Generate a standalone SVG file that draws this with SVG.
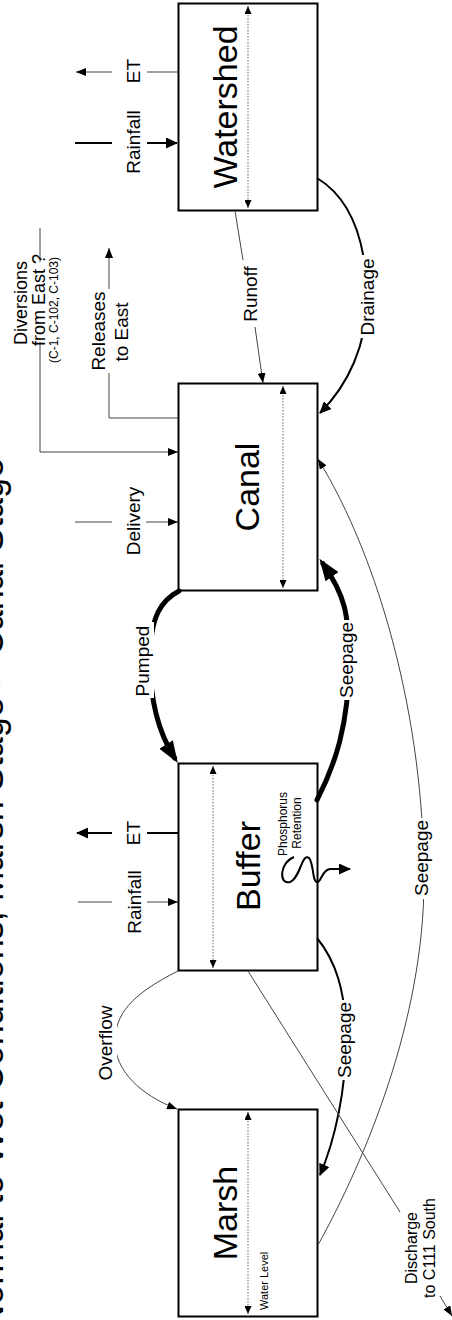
<svg xmlns="http://www.w3.org/2000/svg" width="452" height="1320" viewBox="0 0 452 1320">
<style>
.box{fill:#fff;stroke:#000;stroke-width:2}
.lv{fill:none;stroke:#666;stroke-width:1;stroke-dasharray:1.5 1.5}
.thin{fill:none;stroke:#444;stroke-width:1}
.med{fill:none;stroke:#000;stroke-width:2}
.thick{fill:none;stroke:#000;stroke-width:5;stroke-linecap:round}
text{font-family:"Liberation Sans",Arial,sans-serif;fill:#000}
.lb{font-size:19px}
.nm{font-size:34px}
.bg{fill:#fff}
</style>
<defs>
<marker id="ah" viewBox="0 0 10 8" refX="10" refY="4" markerWidth="10" markerHeight="8" markerUnits="userSpaceOnUse" orient="auto"><path d="M0 0L10 4L0 8z" fill="#000"/></marker>
<marker id="am" viewBox="0 0 12 11" refX="11" refY="5.5" markerWidth="12" markerHeight="11" markerUnits="userSpaceOnUse" orient="auto"><path d="M0 0L12 5.5L0 11z" fill="#000"/></marker>
<marker id="ab" viewBox="0 0 22 16" refX="16" refY="8" markerWidth="22" markerHeight="16" markerUnits="userSpaceOnUse" orient="auto"><path d="M0 0L22 8L0 16z" fill="#000"/></marker>
<marker id="lvm" viewBox="0 0 8 7" refX="8" refY="3.5" markerWidth="8" markerHeight="7" markerUnits="userSpaceOnUse" orient="auto-start-reverse"><path d="M0 0L8 3.5L0 7z" fill="#000"/></marker>
</defs>

<text transform="translate(3,458) rotate(-90)" text-anchor="end" font-size="36">Normal to Wet Conditions, Marsh Stage &gt; Canal Stage</text>

<g id="watershed">
<rect class="box" x="178.5" y="3.5" width="139" height="207"/>
<path class="lv" d="M248 6V208" marker-start="url(#lvm)" marker-end="url(#lvm)"/>
<text class="nm" transform="translate(237,107) rotate(-90)" text-anchor="middle">Watershed</text>
</g>
<g id="canal">
<rect class="box" x="178.5" y="383.5" width="139" height="207"/>
<path class="lv" d="M283 386V588" marker-start="url(#lvm)" marker-end="url(#lvm)"/>
<text class="nm" transform="translate(259,487) rotate(-90)" text-anchor="middle">Canal</text>
</g>
<g id="buffer">
<rect class="box" x="178.5" y="763.5" width="139" height="207"/>
<path class="lv" d="M213 766V968" marker-start="url(#lvm)" marker-end="url(#lvm)"/>
<text class="nm" transform="translate(260,866) rotate(-90)" text-anchor="middle">Buffer</text>
<text transform="translate(287,824) rotate(-90)" text-anchor="middle" font-size="12">Phosphorus</text>
<text transform="translate(301,823) rotate(-90)" text-anchor="middle" font-size="12">Retention</text>
</g>
<g id="marsh">
<rect class="box" x="178.5" y="1109.5" width="139" height="207"/>
<path class="lv" d="M248 1112V1314" marker-start="url(#lvm)" marker-end="url(#lvm)"/>
<text class="nm" transform="translate(237,1213) rotate(-90)" text-anchor="middle">Marsh</text>
<text transform="translate(268,1310) rotate(-90)" font-size="11">Water Level</text>
</g>

<g id="connectors">
<path class="thin" d="M178 72H147M112 72H76" marker-end="url(#ah)"/>
<path class="med" d="M75 143H112M147 143H177" marker-end="url(#am)"/>
<path class="thin" d="M235 211L243 260M255 327L263 383" marker-end="url(#ah)"/>
<path class="med" d="M317 178C345 195 366 230 367 297C367 345 348 385 320 413" marker-end="url(#am)"/>
<path class="thin" d="M178 418H109V248" marker-end="url(#ah)"/>
<path class="thin" d="M40 228V452H178" marker-end="url(#ah)"/>
<path class="thin" d="M75 522H112M146 522H178" marker-end="url(#ah)"/>
<path class="thin" d="M318 1245C365 1160 424 1020 424 880C424 720 380 560 318 459" marker-end="url(#ah)"/>
<path class="thick" d="M317 800C335 765 349 725 349 660C349 615 345 595 322.9 563.6" marker-end="url(#ab)"/>
<path class="thick" d="M179 591C162 600 150 615 150 660C150 705 160 735 174.6 758" marker-end="url(#ab)"/>
<path class="thin" d="M78 902H112M147 902H178" marker-end="url(#ah)"/>
<path class="med" d="M178 833H147M112 833H77" marker-end="url(#am)"/>
<path class="thin" d="M178 971C130 995 115 1015 115 1042C115 1070 140 1095 177 1109" marker-end="url(#ah)"/>
<path class="med" d="M317 938C335 960 346 990 346 1040C346 1090 335 1140 320 1175" marker-end="url(#am)"/>
<path class="thin" d="M248 971L400 1212"/>
<path class="thin" d="M440 1296L452 1316" marker-end="url(#ah)"/>
<path class="med" d="M294 857C280 862 278 885 290 882C300 879 302 852 309 858C314 863 312 884 318 882C322 880 322 870 330 869L350 869" marker-end="url(#am)"/>
</g>

<g id="labels">
<text class="lb" transform="translate(140,71) rotate(-90)" text-anchor="middle">ET</text>
<text class="lb" transform="translate(140,142) rotate(-90)" text-anchor="middle">Rainfall</text>
<text class="lb" transform="translate(257,294) rotate(-90)" text-anchor="middle">Runoff</text>
<rect class="bg" x="357" y="255" width="22" height="83"/>
<text class="lb" transform="translate(374,297) rotate(-90)" text-anchor="middle">Drainage</text>
<rect class="bg" x="86" y="289" width="46" height="84"/>
<text class="lb" transform="translate(105,331) rotate(-90)" text-anchor="middle">Releases</text>
<text class="lb" transform="translate(128,332) rotate(-90)" text-anchor="middle">to East</text>
<rect class="bg" x="8" y="262" width="54" height="80"/>
<text transform="translate(27,303) rotate(-90)" text-anchor="middle" font-size="18">Diversions</text>
<text transform="translate(45,300) rotate(-90)" text-anchor="middle" font-size="18">from East ?</text>
<text transform="translate(58,310) rotate(-90)" text-anchor="middle" font-size="12">(C-1, C-102, C-103)</text>
<text class="lb" transform="translate(140,521) rotate(-90)" text-anchor="middle">Delivery</text>
<rect class="bg" x="132" y="622" width="22" height="76"/>
<text class="lb" transform="translate(149,661) rotate(-90)" text-anchor="middle">Pumped</text>
<rect class="bg" x="338" y="620" width="22" height="80"/>
<text class="lb" transform="translate(353,660) rotate(-90)" text-anchor="middle">Seepage</text>
<rect class="bg" x="412" y="818" width="22" height="81"/>
<text class="lb" transform="translate(428,858) rotate(-90)" text-anchor="middle">Seepage</text>
<text class="lb" transform="translate(141,902) rotate(-90)" text-anchor="middle">Rainfall</text>
<text class="lb" transform="translate(140,833) rotate(-90)" text-anchor="middle">ET</text>
<rect class="bg" x="95" y="1003" width="22" height="80"/>
<text class="lb" transform="translate(112,1043) rotate(-90)" text-anchor="middle">Overflow</text>
<rect class="bg" x="335" y="1000" width="22" height="80"/>
<text class="lb" transform="translate(351,1040) rotate(-90)" text-anchor="middle">Seepage</text>
<text transform="translate(417,1248) rotate(-90)" text-anchor="middle" font-size="16">Discharge</text>
<text transform="translate(435,1248) rotate(-90)" text-anchor="middle" font-size="16">to C111 South</text>
</g>
</svg>
